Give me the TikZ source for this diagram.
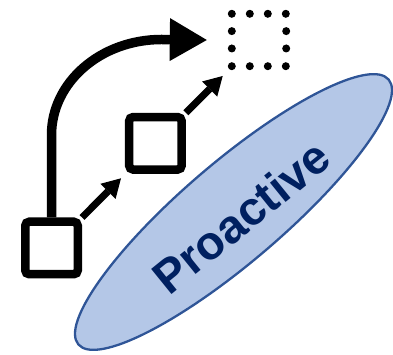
\documentclass[tikz,border=0pt]{standalone}
\usepackage{fontspec}
\newfontfamily\labelfont{Liberation Sans}
\usetikzlibrary{arrows.meta,shapes.geometric}
\definecolor{ellfill}{HTML}{B4C7E7}
\definecolor{elldraw}{HTML}{2F5597}
\definecolor{navy}{HTML}{002060}
\tikzset{
  box/.style={draw=black, line width=8.5pt, rounded corners=4pt, minimum width=52.5pt, minimum height=52.5pt, inner sep=0pt, fill=white},
  bigarrow/.style={line width=9.5pt, -{Triangle[length=37pt,width=43pt,line width=0pt]}},
  smallarrow/.style={line width=7pt, -{Triangle[length=18.5pt,width=21.5pt,line width=0pt]}},
  dot/.style={fill=black},
  oval/.style={ellipse, draw=elldraw, fill=ellfill, line width=2.3pt, minimum width=408pt, minimum height=100pt, inner sep=0pt},
  oval text/.style={text=navy, font=\labelfont\bfseries\fontsize{47}{47}\selectfont}
}
\begin{document}
\begin{tikzpicture}[x=1pt,y=1pt]
\useasboundingbox (0,0) rectangle (393,355);
% ellipse and label
\node[oval, rotate=40.5] (ell) at (233.5,143) {};
\node[oval text, rotate=39] (lbl) at (241,138) {Proactive};
% boxes
\node[box] (b1) at (51.5,107) {};
\node[box] (b2) at (155.4,211.7) {};
% dotted target square
\node[minimum width=54pt, minimum height=52pt, inner sep=0pt] (t) at (259,315) {};
\foreach \x in {0,18,36,54}{
  \fill[dot] ([xshift=\x pt]t.north west) circle (4pt);
  \fill[dot] ([xshift=\x pt]t.south west) circle (4pt);
}
\foreach \y in {17.33,34.67}{
  \fill[dot] ([yshift=-\y pt]t.north west) circle (4pt);
  \fill[dot] ([yshift=-\y pt]t.north east) circle (4pt);
}
% big curved arrow
\coordinate (bend) at (51.5,220);
\coordinate (tip) at ([xshift=-25pt]t.west);
\draw[bigarrow] (b1.north) -- (bend) arc[start angle=180, end angle=90, x radius=110pt, y radius=95.5pt] -- (tip|-t.west);
% small arrows
\coordinate (s1) at (121,176.7);
\coordinate (s2) at (222.7,279);
\draw[smallarrow] (b1.north east) -- (s1);
\draw[smallarrow] (b2.north east) -- (s2);
\end{tikzpicture}
\end{document}
